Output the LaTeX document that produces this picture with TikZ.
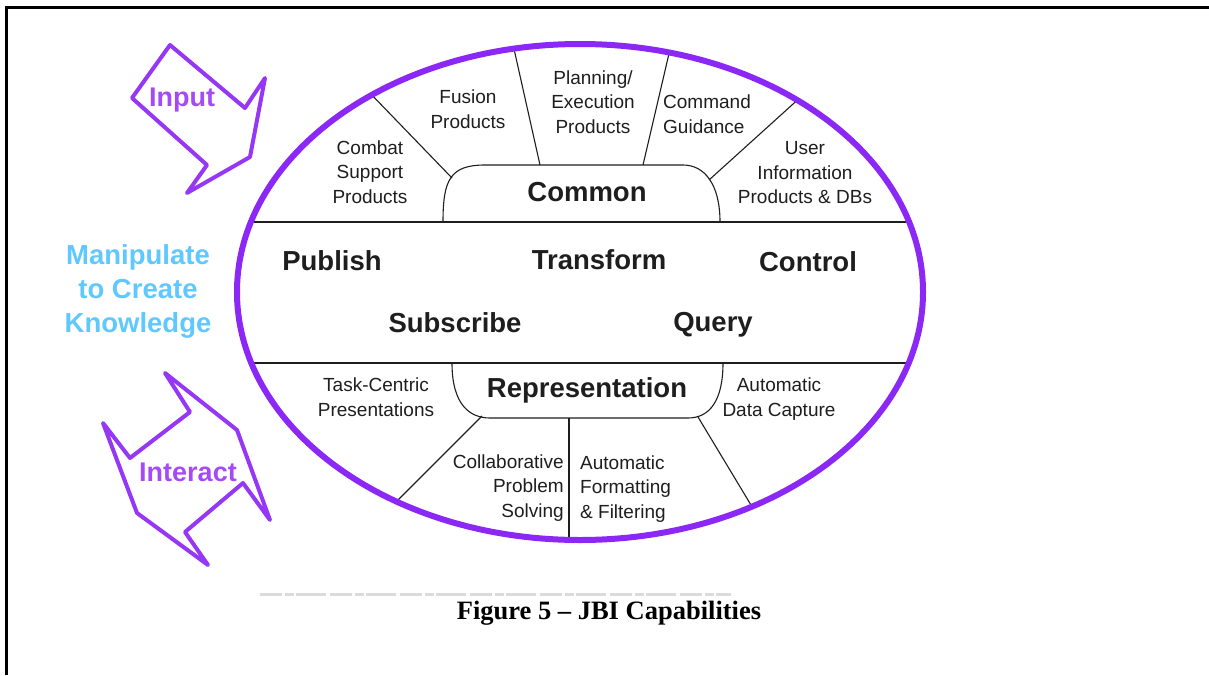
\documentclass[tikz,border=0pt]{standalone}
\usepackage{fontspec}
\setmainfont{Liberation Sans}
\newfontfamily\capfont{Liberation Serif}
\usetikzlibrary{calc}
\definecolor{ring}{RGB}{140,40,245}
\definecolor{arrowline}{RGB}{150,55,245}
\definecolor{arrowtext}{RGB}{165,75,245}
\definecolor{skyblue}{RGB}{95,200,255}
\definecolor{ink}{RGB}{30,30,30}
\begin{document}
\begin{tikzpicture}[x=1pt,y=-1pt,
  small/.style={font=\fontsize{19}{24.5}\selectfont, text=ink, align=center, inner sep=0pt},
  big/.style={font=\fontsize{27.5}{30}\selectfont\bfseries, text=ink, inner sep=0pt},
  divider/.style={draw=ink, line width=1.1pt},
  band/.style={draw=ink, line width=1.6pt},
  blockarrow/.style={draw=arrowline, line width=4pt, line join=round},
  armlabel/.style={font=\fontsize{27}{30}\selectfont\bfseries, text=arrowtext, inner sep=0pt}]

\useasboundingbox (0,0) rectangle (1209,675);

% page frame (left and top rules)
\draw[line width=3pt] (6.5,675) -- (6.5,6) (5,7.5) -- (1209,7.5);

% ring geometry
\coordinate (ctr) at (580,292);

% separators inside the ring, cut at the ring
\begin{scope}
  \clip (ctr) ellipse [x radius=343pt, y radius=248pt];
  \draw[band] (200,222) -- (960,222);
  \draw[band] (200,363) -- (960,363);
  % upper sector dividers
  \draw[divider] (452,178) -- (367,90);
  \draw[divider] (540,165) -- (512,40);
  \draw[divider] (643,165) -- (671,45);
  \draw[divider] (709,180) -- (803,95);
  % lower sector dividers
  \draw[divider] (482,416) -- (392,506);
  \draw[divider] (569,418) -- (569,560);
  \draw[divider] (698,417) -- (757,515);
\end{scope}

% "Common" tab on the upper band
\draw[divider] (443,222) .. controls (443,180) and (450,165) .. (485,165)
  -- (683,165) .. controls (705,165) and (720,185) .. (720,222);
% "Representation" tab on the lower band
\draw[divider] (452,363) .. controls (452,405) and (470,418) .. (490,418)
  -- (688,418) .. controls (710,418) and (723,400) .. (723,363);

% the ring
\draw[ring, line width=6pt] (ctr) ellipse [x radius=343pt, y radius=248pt];

% upper sectors
\node[small] (combat) at (370,172) {Combat\\Support\\Products};
\node[small] (fusion) at (468,109) {Fusion\\Products};
\node[small] (plan) at (593,102) {Planning/\\Execution\\Products};
\node[small, align=left, anchor=west] (cmd) at (663,114) {Command\\Guidance};
\node[small] (user) at (805,173) {User\\Information\\Products \& DBs};
\node[big] (common) at (587,192) {Common};

% middle band
\node[big] (publish) at (332,261) {Publish};
\node[big] (transform) at (599,260) {Transform};
\node[big] (control) at (808,262) {Control};
\node[big] (subscribe) at (455,323) {Subscribe};
\node[big] (query) at (713,325) {Query};

% lower sectors
\node[big] (repr) at (587,390) {Representation};
\node[small] (task) at (376,397) {Task-Centric\\Presentations};
\node[small, align=right, anchor=east] (collab) at (564,488) {Collaborative\\Problem\\Solving};
\node[small, align=left, anchor=west] (format) at (580,489) {Automatic\\Formatting\\\& Filtering};
\node[small] (capture) at (779,399) {Automatic\\Data Capture};

% left-hand side
\node[font=\fontsize{27.5}{34}\selectfont\bfseries, text=skyblue, align=center, inner sep=0pt]
  (manip) at (138,291) {Manipulate\\to Create\\Knowledge};

\draw[blockarrow] (170,45) -- (245,108) -- (265,78) -- (250,157) -- (187,193)
  -- (207,165) -- (132,98) -- cycle;
\node[armlabel] (input) at (182,100) {Input};

\draw[blockarrow] (165,373) -- (237,430) -- (270,520) -- (243,483) -- (185,532)
  -- (208,565) -- (137,513) -- (103,423) -- (130,458) -- (190,412) -- cycle;
\node[armlabel] (interact) at (188,472) {Interact};

% faint remnant rule above the caption
\draw[black!14, line width=3pt, dash pattern=on 22pt off 3pt on 9pt off 2pt on 30pt off 4pt]
  (260,594) -- (731,594);

% caption
\node[font=\capfont\bfseries\fontsize{26.5}{30}\selectfont, inner sep=0pt] (caption)
  at (609,613) {Figure 5 – JBI Capabilities};

\end{tikzpicture}
\end{document}
